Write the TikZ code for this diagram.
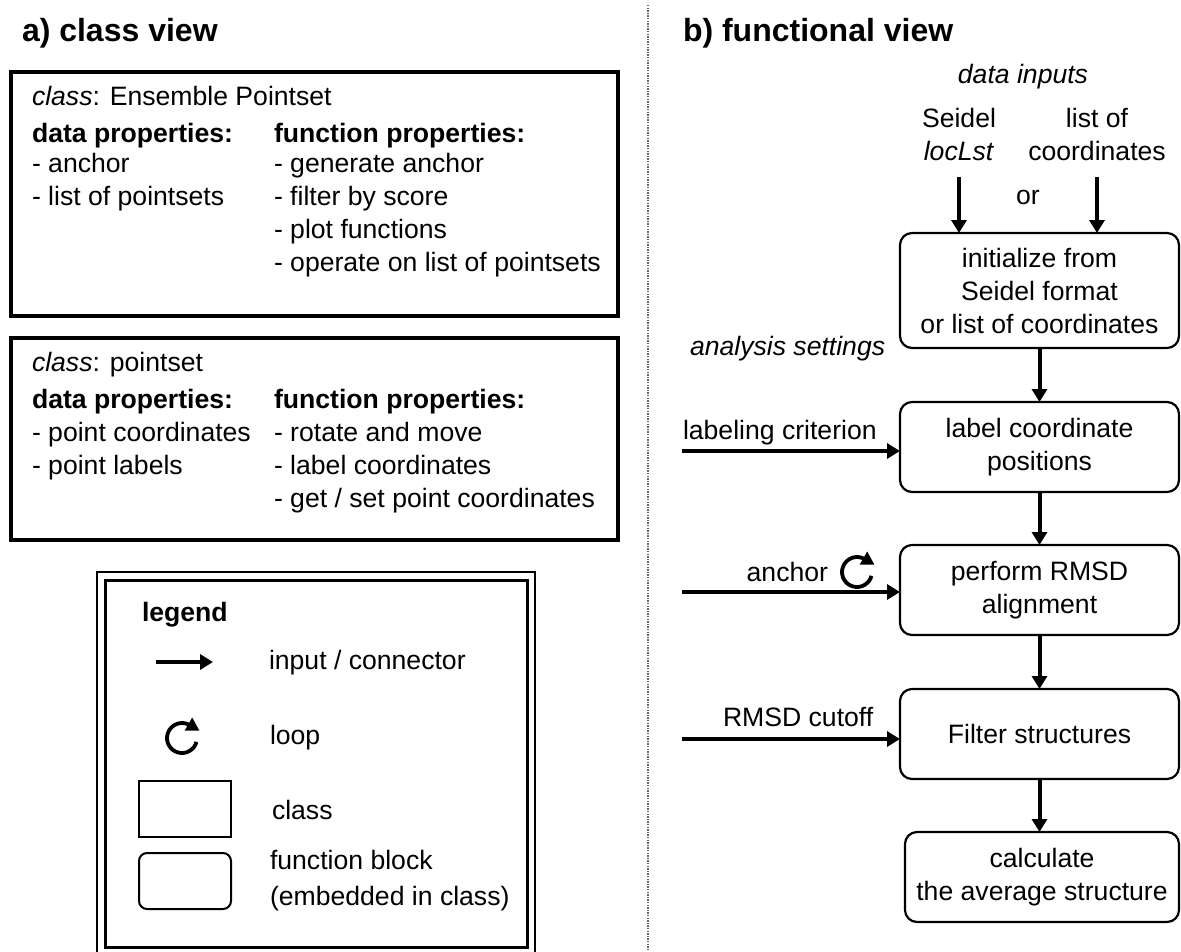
\documentclass[tikz,border=0pt]{standalone}
\usepackage{fontspec}
\setmainfont{Liberation Sans}
\usetikzlibrary{arrows.meta,calc}
\newcommand\txt{\fontsize{26.6}{33}\selectfont}
\newcommand\ttl{\fontsize{32}{38}\selectfont\bfseries}

\tikzset{
  every node/.style={inner sep=0pt, outer sep=0pt, font=\txt},
  fnbox/.style={draw, line width=2.2pt, rounded corners=12pt, align=center,
                minimum width=279pt, minimum height=90pt},
  classline/.style={line width=4pt},
  conn/.style={line width=4pt, -{Triangle[length=13pt,width=15pt]}},
  divider/.style={line width=1.3pt, black!60, dash pattern=on 1.3pt off 1.3pt},
  looparrow/.pic={
    \draw[line width=3.8pt] (-15:15pt) arc[start angle=-15, end angle=-300, radius=15pt];
    \fill (2.7pt,7.5pt) -- (10.2pt,20.5pt) -- (17.3pt,7.5pt) -- cycle;
  }
}

\begin{document}
\begin{tikzpicture}[x=1pt,y=-1pt]
\useasboundingbox (0,0) rectangle (1181,951);

% panel titles and divider
\node[font=\ttl, anchor=west] (ta) at (22,33) {a) class view};
\node[font=\ttl, anchor=west] (tb) at (683,33) {b) functional view};
\draw[divider] (648,5) -- (648,951);

% ---------- a) class view ----------
\draw[classline] (11,72) rectangle (618,316);
\node[anchor=base west] (c1) at (32,105) {\textit{class}: Ensemble Pointset};
\node[anchor=base west, font=\txt\bfseries] (c1d) at (32,142) {data properties:};
\node[anchor=base west, font=\txt\bfseries] (c1f) at (274,142) {function properties:};
\node[anchor=base west] (c1d1) at (32,172) {- anchor};
\node[anchor=base west] (c1d2) at (32,205) {- list of pointsets};
\node[anchor=base west] (c1f1) at (274,172) {- generate anchor};
\node[anchor=base west] (c1f2) at (274,205) {- filter by score};
\node[anchor=base west] (c1f3) at (274,238) {- plot functions};
\node[anchor=base west] (c1f4) at (274,271) {- operate on list of pointsets};

\draw[classline] (11,338) rectangle (618,540);
\node[anchor=base west] (c2) at (32,371) {\textit{class}: pointset};
\node[anchor=base west, font=\txt\bfseries] (c2d) at (32,408) {data properties:};
\node[anchor=base west, font=\txt\bfseries] (c2f) at (274,408) {function properties:};
\node[anchor=base west] (c2d1) at (32,441) {- point coordinates};
\node[anchor=base west] (c2d2) at (32,474) {- point labels};
\node[anchor=base west] (c2f1) at (274,441) {- rotate and move};
\node[anchor=base west] (c2f2) at (274,474) {- label coordinates};
\node[anchor=base west] (c2f3) at (274,507) {- get / set point coordinates};

% legend
\draw[line width=2pt] (97,572) rectangle (535,960);
\draw[line width=3pt] (105,580) rectangle (527,947);
\node[anchor=west, font=\txt\bfseries] (lg) at (142,615) {legend};
\coordinate (la) at (156,662);
\coordinate (lb) at (213,662);
\draw[conn, line width=3.4pt] (la) -- (lb);
\node[anchor=west] (lgi) at (269,663) {input / connector};
\pic at (182,738) {looparrow};
\node[anchor=west] (lgl) at (270,738) {loop};
\draw[line width=2pt] (139,781) rectangle (231,837);
\node[anchor=west] (lgc) at (272,810) {class};
\draw[line width=2pt, rounded corners=8pt] (139,853) rectangle (231,909);
\node[anchor=west] (lgf1) at (270,860) {function block};
\node[anchor=west] (lgf2) at (270,899) {(embedded in class)};

% ---------- b) functional view ----------
\node[font=\txt\itshape] (din) at (1023,77) {data inputs};
\node[align=center] (seidel) at (959,134) {Seidel\\\textit{locLst}};
\node[align=center] (coords) at (1097,134) {list of\\coordinates};
\node (or) at (1028,197) {or};

\node[fnbox, minimum height=115pt] (init) at (1039.5,290.5)
  {initialize from\\Seidel format\\or list of coordinates};
\node[fnbox] (label) at (1039.5,447) {label coordinate\\positions};
\node[fnbox] (rmsd) at (1039.5,590) {perform RMSD\\alignment};
\node[fnbox] (filter) at (1039.5,734) {Filter structures};
\node[fnbox, minimum width=274pt] (calc) at (1042,877) {calculate\\the average structure};

\draw[conn] ([yshift=-17pt]seidel.south) -- (seidel.south |- init.north);
\draw[conn] ([yshift=-17pt]coords.south) -- (coords.south |- init.north);

\node[font=\txt\itshape, anchor=west] (aset) at (690,349) {analysis settings};

\draw[conn] (init.south) -- (label.north);
\draw[conn] (label.south) -- (rmsd.north);
\draw[conn] (rmsd.south) -- (filter.north);
\draw[conn] (filter.south) -- (filter.south |- calc.north);

\node[anchor=west] (lcrit) at (683,433) {labeling criterion};
\coordinate (lin) at (682,451);
\draw[conn] (lin) -- (lin -| label.west);

\node[anchor=east] (anc) at (828,572) {anchor};
\pic at (857,572) {looparrow};
\coordinate (ain) at (682,592);
\draw[conn] (ain) -- (ain -| rmsd.west);

\node[anchor=west] (cut) at (723,717) {RMSD cutoff};
\coordinate (fin) at (682,739);
\draw[conn] (fin) -- (fin -| filter.west);
\end{tikzpicture}
\end{document}
